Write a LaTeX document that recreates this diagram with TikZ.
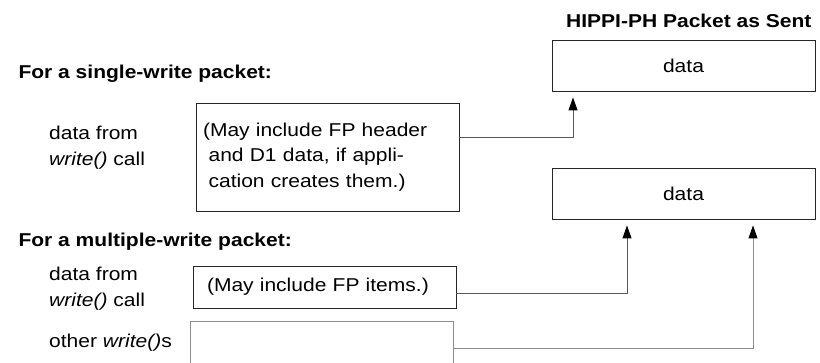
\documentclass[tikz,border=0pt]{standalone}
\usepackage{fontspec}
\setmainfont[FakeStretch=1.13]{Liberation Sans}
\usetikzlibrary{positioning, arrows.meta}

\begin{document}
\begin{tikzpicture}[x=1pt, y=-1pt, font=\fontsize{18.6}{25.8}\selectfont,
  pktbox/.style={draw=black!85, line width=0.9pt, minimum width=263pt, inner sep=0pt},
  feed/.style={draw=black!65, line width=0.9pt, -{Triangle[length=13pt,width=9pt,black]}, shorten >=6pt},
  heading/.style={font=\fontsize{18.6}{25.8}\selectfont\bfseries, anchor=base west}]
  \useasboundingbox (0,0) rectangle (820,363);

  % packet as it goes out
  \node[heading, anchor=base east] (title) at (815,28) {HIPPI-PH Packet as Sent};
  \node[pktbox, minimum height=51pt] (sent1) at (683.5,65.5) {data};
  \node[pktbox, minimum height=51pt] (sent2) at (683.5,193.5) {data};

  % single write
  \node[heading] (single) at (15,79) {For a single-write packet:};
  \node[anchor=west, align=left, inner sep=0pt] (wr1) at (49,148) {data from\\\textit{write()} call};
  \node[pktbox, minimum height=108pt, inner xsep=7pt, text width=249pt, align=left] (swbox) at (327.5,157)
  {(May include FP header\\\hspace*{0.3em}and D1 data, if appli-\\\hspace*{0.3em}cation creates them.)};

  % multiple write
  \node[heading] (multi) at (15,247) {For a multiple-write packet:};
  \node[anchor=west, align=left, inner sep=0pt] (wr2) at (49,289) {data from\\\textit{write()} call};
  \node[pktbox, minimum height=42pt, inner xsep=14pt, text width=235pt, align=left] (fpbox) at (324.5,287) {(May include FP items.)};
  \node[anchor=base west, inner sep=0pt] (wr3) at (49,348) {other \textit{write()}s};
  \node[pktbox, draw=black!45, minimum height=42pt] (otherbox) at (321.5,342) {};

  \draw[feed] ([yshift=20pt]swbox.east) -| ([xshift=-110.5pt]sent1.south);
  \draw[feed] ([yshift=-6pt]fpbox.east) -| ([xshift=-56.5pt]sent2.south);
  \draw[feed, draw=black!45] ([yshift=-6pt]otherbox.east) -| ([xshift=69.5pt]sent2.south);
\end{tikzpicture}
\end{document}
